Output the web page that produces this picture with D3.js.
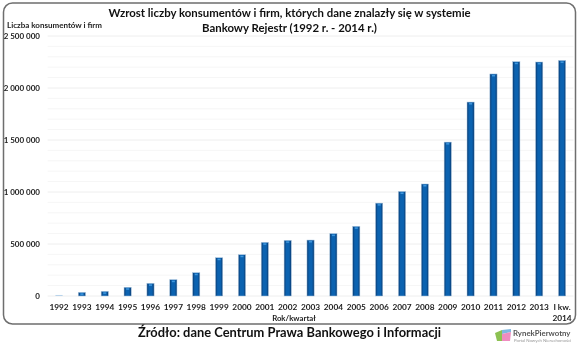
<html>

<head>
  <meta charset="utf8">
  <title>Bankowy Rejestr</title>
  <style>
  * {
    margin: 0;
    padding: 0;
  }
  body {
    background: #fff;
  }
  svg {
    filter: blur(0.35px);
  }
  text {
    font-family: Lato, sans-serif;
    fill: #222;
  }
  </style>
</head>

<body>
  <script src="https://cdn.jsdelivr.net/npm/d3@7"></script>
  <script>
  var w = 585;
  var h = 354;

  var years = ["1992", "1993", "1994", "1995", "1996", "1997", "1998", "1999", "2000", "2001", "2002", "2003", "2004", "2005", "2006", "2007", "2008", "2009", "2010", "2011", "2012", "2013", "I kw.|2014"];
  var counts = [10000, 35000, 45000, 84000, 122000, 157000, 224000, 368000, 397000, 516000, 535000, 538000, 600000, 670000, 893000, 1005000, 1077000, 1480000, 1865000, 2135000, 2253000, 2250000, 2265000];
  var majorTicks = [0, 500000, 1000000, 1500000, 2000000, 2500000];
  var minorTicks = [100000, 200000, 300000, 400000, 600000, 700000, 800000, 900000, 1100000, 1200000, 1300000, 1400000, 1600000, 1700000, 1800000, 1900000, 2100000, 2200000, 2300000, 2400000];
  var titleLines = ["Wzrost liczby konsumentów i firm, których dane znalazły się w systemie", "Bankowy Rejestr (1992 r. - 2014 r.)"];

  var xScale = d3.scaleBand()
    .domain(years)
    .range([47.6, 573.5]);
  var yScale = d3.scaleLinear()
    .domain([0, 2500000])
    .range([296, 36]);

  var svg = d3.select("body")
    .append("svg")
    .attr("width", w)
    .attr("height", h)
    .style("display", "block");

  //bar gradient
  var grad = svg.append("defs")
    .append("linearGradient")
    .attr("id", "bar");
  grad.append("stop").attr("offset", "0%").attr("stop-color", "#0a3a70");
  grad.append("stop").attr("offset", "30%").attr("stop-color", "#0b62b0");
  grad.append("stop").attr("offset", "70%").attr("stop-color", "#0b62b0");
  grad.append("stop").attr("offset", "100%").attr("stop-color", "#0a3a70");

  //frame
  svg.append("rect")
    .attr("x", 3.5)
    .attr("y", 3)
    .attr("width", 572)
    .attr("height", 321)
    .attr("rx", 9)
    .attr("fill", "#fff")
    .attr("stroke", "#6e6e6e")
    .attr("stroke-width", 1.5);

  //gridlines
  svg.selectAll("line.minor")
    .data(minorTicks)
    .enter()
    .append("line")
    .attr("class", "minor")
    .attr("x1", 47.6)
    .attr("x2", 573.5)
    .attr("y1", d => yScale(d))
    .attr("y2", d => yScale(d))
    .attr("stroke", "#f6f6f6");
  svg.selectAll("line.major")
    .data(majorTicks)
    .enter()
    .append("line")
    .attr("class", "major")
    .attr("x1", 47.6)
    .attr("x2", 573.5)
    .attr("y1", d => yScale(d))
    .attr("y2", d => yScale(d))
    .attr("stroke", "#eeeeee");

  //bars
  svg.selectAll("rect.bar")
    .data(counts)
    .enter()
    .append("rect")
    .attr("class", "bar")
    .attr("x", (d, i) => xScale(years[i]) + xScale.bandwidth() / 2 - 3.6)
    .attr("y", d => yScale(d))
    .attr("width", 7.2)
    .attr("height", d => yScale(0) - yScale(d))
    .attr("fill", (d, i) => i == 0 ? "#b9d3ea" : "url(#bar)")
    .attr("stroke", (d, i) => i == 0 ? "none" : "#a9c6e0")
    .attr("stroke-width", 0.5);
  //light cap on top of each bar
  svg.selectAll("rect.cap")
    .data(counts.slice(1))
    .enter()
    .append("rect")
    .attr("class", "cap")
    .attr("x", (d, i) => xScale(years[i + 1]) + xScale.bandwidth() / 2 - 1.5)
    .attr("y", d => yScale(d) + 1)
    .attr("width", 3)
    .attr("height", 1.5)
    .attr("fill", "#3f96dc");

  //y labels
  svg.selectAll("text.ytick")
    .data(majorTicks)
    .enter()
    .append("text")
    .attr("class", "ytick")
    .attr("x", 40)
    .attr("y", d => yScale(d) + 3)
    .attr("text-anchor", "end")
    .attr("font-size", "8px")
    .attr("font-weight", "bold")
    .text(d => d3.format(",")(d).replace(/,/g, " "));

  //x labels
  var xLabels = svg.selectAll("text.xtick")
    .data(years)
    .enter()
    .append("text")
    .attr("class", "xtick")
    .attr("text-anchor", "middle")
    .attr("font-size", "8.3px")
    .attr("font-weight", "bold")
    .attr("y", 310);
  xLabels.selectAll("tspan")
    .data(d => d.split("|").map(t => [d, t]))
    .enter()
    .append("tspan")
    .attr("x", d => xScale(d[0]) + xScale.bandwidth() / 2)
    .attr("dy", (d, i) => i ? 10.5 : 0)
    .text(d => d[1]);

  svg.append("text")
    .attr("x", 7)
    .attr("y", 28)
    .attr("font-size", "8px")
    .attr("font-weight", "bold")
    .text("Liczba konsumentów i firm");
  svg.append("text")
    .attr("x", 294)
    .attr("y", 321)
    .attr("text-anchor", "middle")
    .attr("font-size", "7.8px")
    .attr("font-weight", "bold")
    .text("Rok/kwartał");

  //title
  svg.selectAll("text.title")
    .data(titleLines)
    .enter()
    .append("text")
    .attr("class", "title")
    .attr("x", 289.5)
    .attr("y", (d, i) => 16.5 + i * 15.5)
    .attr("text-anchor", "middle")
    .attr("font-size", "11.4px")
    .attr("font-weight", "bold")
    .style("fill", "#111")
    .text(d => d);

  //source
  svg.append("text")
    .attr("x", 289.5)
    .attr("y", 337)
    .attr("text-anchor", "middle")
    .attr("font-size", "12.9px")
    .attr("font-weight", "bold")
    .style("fill", "#111")
    .text("Źródło: dane Centrum Prawa Bankowego i Informacji");

  //logo
  var logo = svg.append("g").attr("transform", "translate(495,329)");
  logo.append("path").attr("d", "M0 4 L7 1 L7 12 L2 12 Z").attr("fill", "#8cc152");
  logo.append("path").attr("d", "M7 1 L16 0 L16 3 L7 5 Z").attr("fill", "#7fb8e0");
  logo.append("path").attr("d", "M7 5 L16 3 L15 12 L7 12 Z").attr("fill", "#f08cc0");
  svg.append("text")
    .attr("x", 513)
    .attr("y", 336)
    .attr("font-size", "7.8px")
    .attr("font-weight", "bold")
    .style("fill", "#555")
    .text("RynekPierwotny");
  svg.append("text")
    .attr("x", 514)
    .attr("y", 341.5)
    .attr("font-size", "4.3px")
    .style("fill", "#999")
    .text("Portal Nowych Nieruchomości");
  </script>
</body>

</html>
